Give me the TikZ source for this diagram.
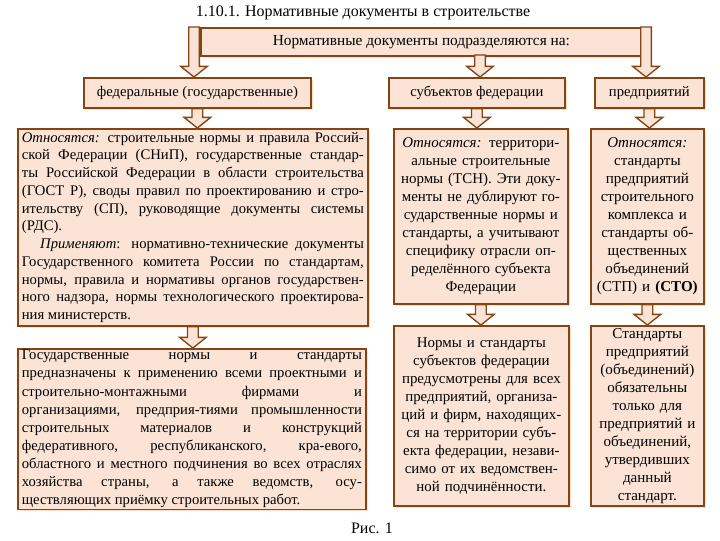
\documentclass[tikz,border=0pt]{standalone}
\usepackage{fontspec}
\setmainfont{Liberation Serif}
\usepackage{xcolor}
\usetikzlibrary{calc,positioning,shadows}
\definecolor{peach}{RGB}{251,228,213}
\definecolor{brd}{RGB}{133,68,18}
\definecolor{glow}{RGB}{251,222,198}
\hyphenpenalty=10000
\exhyphenpenalty=10000
\hbadness=10000
\tikzset{
  nbox/.style={draw=brd, fill=peach, line width=1.3pt, anchor=north west, inner xsep=3pt, inner ysep=1pt,
    drop shadow={shadow xshift=1.5pt, shadow yshift=-1.5pt, fill=glow, opacity=1}},
  hbox/.style={nbox, align=center, font=\fontsize{11}{13}\selectfont, minimum height=22.5pt},
  tbox/.style={nbox, align=justify, font=\fontsize{11}{13.3}\selectfont},
  cbox/.style={nbox, align=center, font=\fontsize{11.2}{13.5}\selectfont},
  rbox/.style={nbox, align=center, font=\fontsize{11.3}{13.5}\selectfont},
  barr/.style={draw=brd, fill=peach, line width=1pt, line join=miter}
}
% hollow block arrow from #1 (x and top) down to #2 (tip)
\newcommand{\blockarrow}[2]{%
  \path[barr] let \p1=(#1), \p2=(#2) in
    (\x1-4pt,\y1) -- (\x1+4pt,\y1) -- (\x1+4pt,\y2+8pt) -- (\x1+10pt,\y2+8pt)
    -- (\x1,\y2) -- (\x1-10pt,\y2+8pt) -- (\x1-4pt,\y2+8pt) -- cycle;}

\begin{document}
\begin{tikzpicture}[x=0.75pt, y=-0.75pt]
\useasboundingbox (0,0) rectangle (720,540);

\node[font=\fontsize{12}{14}\selectfont] (title) at (363,13) {1.10.1. Нормативные документы в строительстве};

% heading row
\node[hbox, font=\fontsize{11.5}{13}\selectfont, minimum width=330.75pt, minimum height=21pt] (top) at (200,27) {Нормативные документы подразделяются на:};
\node[hbox, minimum width=170.25pt] (fed) at (83,77) {федеральные (государственные)};
\node[hbox, minimum width=132pt] (subj) at (388,77) {субъектов федерации};
\node[hbox, minimum width=81.75pt] (ent) at (594,77) {предприятий};

% second row
\node[tbox, text width=256.5pt, minimum height=147.75pt] (big1) at (17,128) {\textit{Относятся:} строительные нормы и правила Россий-\linebreak
ской Федерации (СНиП), государственные стандар-\linebreak
ты Российской Федерации в области строительства\linebreak
(ГОСТ~Р), своды правил по проектированию и стро-\linebreak
ительству (СП), руководящие документы системы\linebreak
(РДС).\\
\hspace*{1.25em}\textit{Применяют}: нормативно-технические документы\linebreak
Государственного комитета России по стандартам,\linebreak
нормы, правила и нормативы органов государствен-\linebreak
ного надзора, нормы технологического проектирова-\linebreak
ния министерств.};
\node[cbox, text width=124.5pt, minimum height=131.25pt] (mid1) at (393,128) {\textit{Относятся:} территори-\\
альные строительные\\
нормы (ТСН). Эти доку-\\
менты не дублируют го-\\
сударственные нормы и\\
стандарты, а учитывают\\
специфику отрасли оп-\\
ределённого субъекта\\
Федерации};
\node[rbox, text width=78.75pt, minimum height=131.25pt] (right1) at (590,128) {\textit{Относятся:}\\
стандарты\\
предприятий\\
строительного\\
комплекса и\\
стандарты об-\\
щественных\\
объединений\\
(СТП) и \textbf{(СТО)}};

% third row
\node[tbox, text width=255pt, minimum height=117.75pt, font=\fontsize{11}{13.6}\selectfont] (big2) at (17,348) {Государственные нормы и стандарты\linebreak
предназначены к применению всеми проектными и\linebreak
строительно-монтажными фирмами и\linebreak
организациями, предприя-тиями промышленности\linebreak
строительных материалов и конструкций\linebreak
федеративного, республиканского, кра-евого,\linebreak
областного и местного подчинения во всех отраслях\linebreak
хозяйства страны, а также ведомств, осу-\linebreak
ществляющих приёмку строительных работ.};
\node[cbox, text width=125.25pt, minimum height=135pt] (mid2) at (393,325) {Нормы и стандарты\\
субъектов федерации\\
предусмотрены для всех\\
предприятий, организа-\\
ций и фирм, находящих-\\
ся на территории субъ-\\
екта федерации, незави-\\
симо от их ведомствен-\\
ной подчинённости.};
\node[rbox, text width=78.75pt, minimum height=135pt] (right2) at (590,325) {Стандарты\\
предприятий\\
(объединений)\\
обязательны\\
только для\\
предприятий и\\
объединений,\\
утвердивших\\
данный\\
стандарт.};

\node[font=\fontsize{12}{14}\selectfont] (cap) at (372,528) {Рис. 1};

% arrows
\coordinate (s1) at (194,27);
\coordinate (s2) at (480,55);
\coordinate (s3) at (646,27);
\blockarrow{s1}{fed.north}
\blockarrow{s2}{subj.north}
\blockarrow{s3}{ent.north}
\blockarrow{fed.south}{big1.north}
\blockarrow{big1.south}{big2.north}
\blockarrow{subj.south}{mid1.north}
\blockarrow{mid1.south}{mid2.north}
\blockarrow{ent.south}{right1.north}
\blockarrow{right1.south}{right2.north}
\end{tikzpicture}
\end{document}
